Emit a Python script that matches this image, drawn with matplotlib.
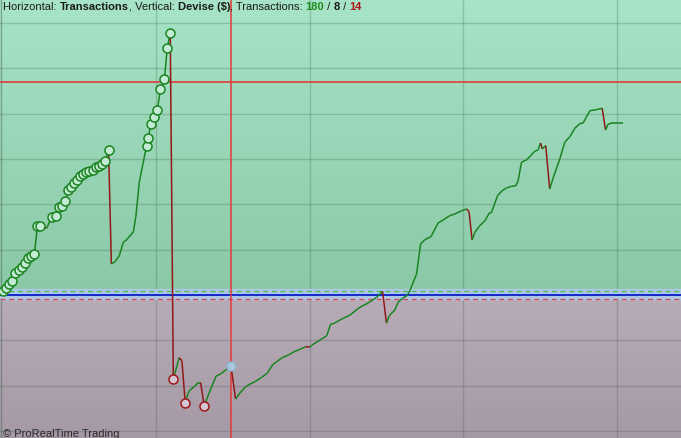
import numpy as np
import matplotlib
matplotlib.use("Agg")
import matplotlib.pyplot as plt
from matplotlib.collections import LineCollection

# equity curve: trade number / equity ($)
trade = [0, 1.0, 2.05, 3.03, 3.9, 5.2, 6.3, 7.2, 8.1, 9.1, 10.2, 11.2, 12.2, 14.2,
         15.9, 17.3, 18.3, 19.2, 20.3, 21.3, 22.2, 23.1, 24.2, 25.1, 26.0, 27.0,
         27.9, 29.2, 30.3, 31.2, 32.3, 33.3, 34.4, 35.3, 36.5, 37.9, 39.2, 40.3,
         42.5, 43.3, 44.4, 45.7, 46.8, 47.3, 48.2, 49.3, 50.3, 51.3, 52.6, 53.5,
         54.5, 55.5, 57.4, 58.3, 59.4, 60.2, 60.9, 62.3, 63.6, 64.4, 65.6, 66.4,
         67.7, 69.4, 71.0, 73.1, 74.3, 75.8, 77.2, 78.9, 80.5, 82.1, 84.3, 86.1,
         87.9, 89.2, 90.8, 93.0, 94.9, 96.5, 98.6, 100.0, 101.1, 103.3, 105.5,
         106.8, 107.6, 110.9, 113.1, 116.3, 119.0, 121.8, 123.7, 125.0, 125.9,
         127.7, 128.8, 130.2, 131.7, 132.6, 134.8, 136.1, 137.5, 139.5, 141.8,
         143.5, 145.6, 147.3, 149.5, 151.1, 151.9, 152.9, 153.8, 155.4, 157.1,
         158.5, 159.2, 161.2, 162.7, 164.1, 165.8, 167.2, 167.9, 169.0, 170.6,
         172.0, 173.3, 174.4, 175.2, 175.8, 176.9, 178.2, 179.5, 181.5, 183.1,
         184.8, 186.4, 188.0, 189.1, 191.3, 193.4, 195.3, 196.4, 197.2, 198.3, 202.1]
equity = [95, 155, 243, 316, 486, 559, 625, 713, 824, 861, 899, 1517, 1530, 1473,
          1729, 1735, 1950, 1972, 2082, 2325, 2378, 2466, 2546, 2634, 2678, 2709,
          2738, 2760, 2820, 2842, 2892, 2959, 3195, 684, 735, 868, 1164, 1221,
          1398, 1738, 2488, 2930, 3297, 3460, 3769, 3924, 4085, 4542, 4763, 5447,
          5785, -1855, -1384, -1451, -2391, -2186, -2098, -2025, -1936, -1936, -2457, -2296,
          -2076, -1795, -1738, -1634, -1574, -2296, -2164, -2038, -1965, -1914, -1817, -1729,
          -1539, -1473, -1391, -1325, -1252, -1208, -1142, -1150, -1089, -994, -899,
          -640, -635, -514, -442, -272, -177, -51, 82, -623, -457,
          -331, -161, -73, -15, 95, 464, 1126, 1221, 1287, 1590,
          1656, 1751, 1788, 1861, 1899, 1839, 1214, 1384, 1530, 1641,
          1811, 1815, 2193, 2303, 2363, 2400, 2413, 2524, 2930, 2981,
          3076, 3173, 3202, 3356, 3224, 3297, 2340, 2621, 3003, 3372,
          3495, 3681, 3782, 3798, 4069, 4091, 4122, 3643, 3769, 3791, 3791]

n_win, n_even, n_loss = 180, 8, 14
cursor_trade = 74.3
cursor_level = 4700

t = np.array(trade)
v = np.array(equity, dtype=float)

fig = plt.figure(figsize=(6.81, 4.39), dpi=100)
ax = fig.add_axes([0, 0, 1, 1])
x0, x1 = -1, 221
y0, y1 = -3157, 6534
ax.set_xlim(x0, x1)
ax.set_ylim(y0, y1)
ax.axis("off")

# background: green above zero, grey-violet below
up = np.linspace(0, 1, 100).reshape(-1, 1)
top_c = np.array([0.655, 0.894, 0.784])
bot_c = np.array([0.545, 0.785, 0.650])
img = bot_c + (top_c - bot_c) * up
ax.imshow(img[:, None, :].repeat(2, axis=1), extent=[x0, x1, 0, y1], origin="lower",
          aspect="auto", zorder=0)
lo_top = np.array([0.725, 0.675, 0.725])
lo_bot = np.array([0.650, 0.600, 0.650])
img2 = lo_bot + (lo_top - lo_bot) * up
ax.imshow(img2[:, None, :].repeat(2, axis=1), extent=[x0, x1, y0, 0], origin="lower",
          aspect="auto", zorder=0)

# grid
for g in range(-3000, 7000, 1000):
    if g != 0:
        ax.axhline(g, color="#3a5a48", alpha=0.25, lw=1, zorder=1)
for g in [50, 100, 150, 200]:
    ax.axvline(g, color="#3a5a48", alpha=0.25, lw=1, zorder=1)
ax.axvline(-0.6, color="#4a6a58", alpha=0.5, lw=1, zorder=1)

# zero band
ax.axhspan(-90, 130, color="#aec6e6", zorder=1)
ax.axhline(95, color="#3cc24a", lw=0.9, ls=(0, (4, 3)), zorder=2)
ax.axhline(-80, color="#d24a4a", lw=0.9, ls=(0, (4, 3)), zorder=2)
ax.axhline(0, color="#1428c8", lw=1.4, zorder=2)

# crosshair
ax.axvline(cursor_trade, color="#e23a3a", lw=1.1, zorder=3)
ax.axhline(cursor_level, color="#e03c3c", lw=1.2, zorder=3)

# equity line, green when rising, red when falling
pts = np.column_stack([t, v])
segs = np.stack([pts[:-1], pts[1:]], axis=1)
cols = np.where(np.diff(v) >= 0, "#1a8420", "#921818")
ax.add_collection(LineCollection(segs, colors=cols, linewidths=1.1, zorder=4))

# markers on new highs / new lows
run_max = np.maximum.accumulate(v)
run_min = np.minimum.accumulate(v)
hi = np.r_[True, v[1:] > run_max[:-1]]
lo = np.r_[False, v[1:] < run_min[:-1]]
ax.plot(t[hi], v[hi], "o", ms=6.5, mfc="#c2ead4", mec="#1a8420", mew=1.1, zorder=5)
ax.plot(t[lo], v[lo], "o", ms=6.5, mfc="#d4c6d4", mec="#a01818", mew=1.1, zorder=5)
ci = int(np.argmin(np.abs(t - cursor_trade)))
ax.plot(t[ci], v[ci], "o", ms=6.5, mfc="#a9c6dc", mec="#8fb2cc", mew=1, zorder=5)

# header text in pieces
pieces = [("Horizontal: ", "normal", "#1a1a1a"), ("Transactions", "bold", "#1a1a1a"),
          (", Vertical: ", "normal", "#1a1a1a"), ("Devise ($)", "bold", "#1a1a1a"),
          (", Transactions: ", "normal", "#1a1a1a"), (str(n_win), "bold", "#1e8a1e"),
          (" / ", "normal", "#1a1a1a"), (str(n_even), "bold", "#1a1a1a"),
          (" / ", "normal", "#1a1a1a"), (str(n_loss), "bold", "#b01818")]
fig.canvas.draw()
r = fig.canvas.get_renderer()
xp = 3
for s, w, c in pieces:
    tx = fig.text(xp / 681, 1 - 9.5 / 439, s, fontsize=8.0, fontweight=w, color=c,
                  family="Liberation Sans", va="baseline", ha="left")
    bb = tx.get_window_extent(renderer=r)
    xp += bb.width

fig.text(3 / 681, 1 - 429 / 439, "\u00a9 ProRealTime Trading", fontsize=8.0,
         color="#2a2a2a", family="Liberation Sans", va="top", ha="left")

fig.savefig("out.png", dpi=100)
